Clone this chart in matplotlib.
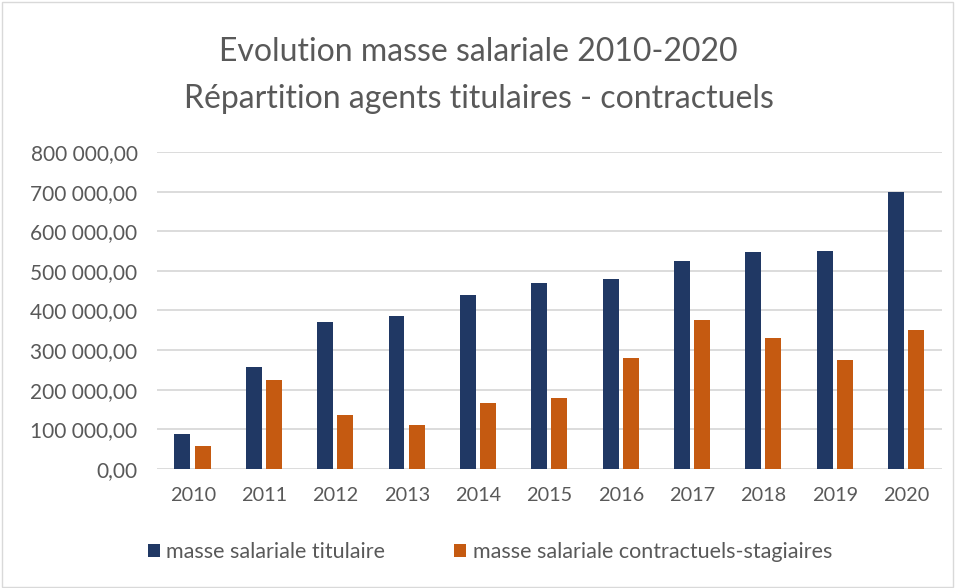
import matplotlib
matplotlib.use("Agg")
import matplotlib.pyplot as plt
import numpy as np
from matplotlib.ticker import FuncFormatter, MultipleLocator
from matplotlib.patches import Rectangle

years = ["2010", "2011", "2012", "2013", "2014", "2015",
         "2016", "2017", "2018", "2019", "2020"]
titulaire = [89000, 257000, 372000, 386000, 439000, 470000,
             480000, 524000, 547000, 551000, 700000]
contractuels = [59000, 225000, 136000, 111000, 167000, 180000,
                281000, 376000, 331000, 276000, 352000]
labels = ["masse salariale titulaire", "masse salariale contractuels-stagiaires"]

NAVY = "#203864"
ORANGE = "#C55A11"
TXT = "#595959"

plt.rcParams['font.family'] = ['Lato', 'DejaVu Sans']


def fr_fmt(v, pos):
    s = "{:,.2f}".format(v)
    return s.replace(",", " ").replace(".", ",")


fig = plt.figure(figsize=(9.57, 5.88), dpi=100)
ax = fig.add_axes([0.164, 0.2024, 0.82, 0.5391])

x = np.arange(len(years))
w = 0.224
ax.bar(x - 0.142, titulaire, w, color=NAVY, label=labels[0], zorder=3)
ax.bar(x + 0.142, contractuels, w, color=ORANGE, label=labels[1], zorder=3)

ax.set_xlim(-0.5, len(years) - 0.5)
ax.set_ylim(0, 800000)
ax.yaxis.set_major_locator(MultipleLocator(100000))
ax.yaxis.set_major_formatter(FuncFormatter(fr_fmt))
ax.set_xticks(x)
ax.set_xticklabels(years)
ax.grid(axis="y", color="#D9D9D9", linewidth=1.3, zorder=0)
for s in ax.spines.values():
    s.set_visible(False)
ax.tick_params(length=0, colors=TXT)
ax.tick_params(axis="x", pad=13, labelsize=14.3)
ax.tick_params(axis="y", pad=14, labelsize=15)

fig.text(0.5, 0.911, "Evolution masse salariale 2010-2020", ha="center",
         va="center", fontsize=23, color=TXT)
fig.text(0.5, 0.832, "Répartition agents titulaires - contractuels", ha="center",
         va="center", fontsize=23, color=TXT)

leg = fig.legend(loc="center", bbox_to_anchor=(0.512, 0.061), ncol=2,
                 frameon=False, fontsize=15.5, labelcolor=TXT,
                 handlelength=0.55, handleheight=0.55, handletextpad=0.3,
                 columnspacing=3.2)

fig.patches.append(Rectangle((0.002, 0.002), 0.994, 0.994, transform=fig.transFigure,
                             fill=False, edgecolor="#D9D9D9", linewidth=1))

fig.savefig("out.png", dpi=100)
